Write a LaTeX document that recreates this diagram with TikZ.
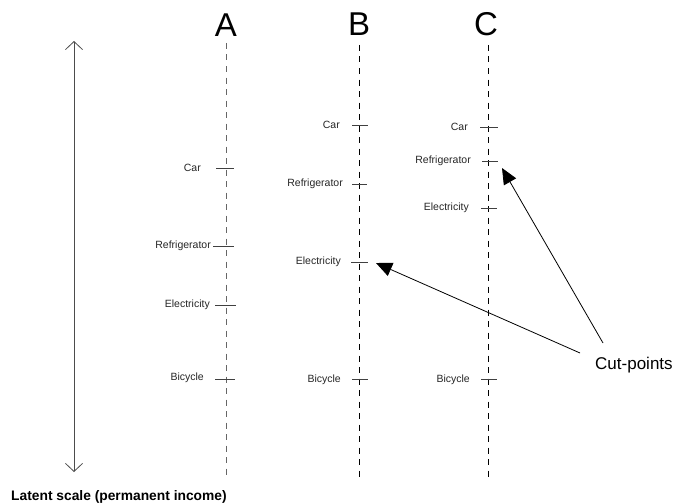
\documentclass[tikz,border=0pt]{standalone}
\usepackage{fontspec}
\setmainfont{Liberation Sans}
\usetikzlibrary{arrows.meta}
\begin{document}
\begin{tikzpicture}[x=1pt,y=-1pt,
  axisline/.style={draw=black, line width=0.8pt, dash pattern=on 6pt off 5.5pt},
  axisgrey/.style={axisline, draw=black!60},
  tickmark/.style={draw=black!75, line width=0.8pt},
  itemlabel/.style={font=\fontsize{10.5}{12}\selectfont, text=black!85, anchor=east, inner sep=0pt},
  colhead/.style={font=\fontsize{33}{36}\selectfont, inner sep=0pt, anchor=base},
  pointer/.style={draw=black, line width=0.8pt, -{Triangle[length=16pt,width=14pt]}},
  scalearrow/.style={draw=black!70, line width=0.8pt, {Straight Barb[length=8pt,width=17pt]}-{Straight Barb[length=8pt,width=17pt]}}
]
\useasboundingbox (0,0) rectangle (674,503);

% column headings
\node[colhead] (hA) at (226,37) {A};
\node[colhead] (hB) at (359,36) {B};
\node[colhead] (hC) at (486,36) {C};

% dashed scales
\coordinate (At) at (226,43); \coordinate (Ab) at (226,477);
\coordinate (Bt) at (359,45); \coordinate (Bb) at (359,477);
\coordinate (Ct) at (488,45); \coordinate (Cb) at (488,477);
\draw[axisgrey] (At) -- (Ab);
\draw[axisline] (Bt) -- (Bb);
\draw[axisline] (Ct) -- (Cb);

% latent scale arrow
\coordinate (La) at (74,41); \coordinate (Lb) at (74,472);
\draw[scalearrow] (Lb) -- (La);
\node[font=\bfseries\fontsize{13.8}{16}\selectfont, anchor=west, inner sep=0pt] (lat) at (11,497) {Latent scale (permanent income)};

% ticks column A
\coordinate (aCar) at (225,168);
\coordinate (aRef) at (224,246);
\coordinate (aEle) at (225.5,305);
\coordinate (aBic) at (225,379);
\draw[tickmark] ([xshift=-9]aCar) -- ([xshift=9]aCar);
\draw[tickmark] ([xshift=-11]aRef) -- ([xshift=10]aRef);
\draw[tickmark] ([xshift=-10.5]aEle) -- ([xshift=10.5]aEle);
\draw[tickmark] ([xshift=-10]aBic) -- ([xshift=10]aBic);
\node[itemlabel] (laCar) at (201,168) {Car};
\node[itemlabel] (laRef) at (211,246) {Refrigerator};
\node[itemlabel] (laEle) at (210,305) {Electricity};
\node[itemlabel] (laBic) at (204,378) {Bicycle};

% ticks column B
\coordinate (bCar) at (360,125);
\coordinate (bRef) at (359.5,184);
\coordinate (bEle) at (359.5,262);
\coordinate (bBic) at (360,379);
\draw[tickmark] ([xshift=-8]bCar) -- ([xshift=8]bCar);
\draw[tickmark] ([xshift=-7.5]bRef) -- ([xshift=7.5]bRef);
\draw[tickmark] ([xshift=-8.5]bEle) -- ([xshift=8.5]bEle);
\draw[tickmark] ([xshift=-8]bBic) -- ([xshift=8]bBic);
\node[itemlabel] (lbCar) at (340,125) {Car};
\node[itemlabel] (lbRef) at (343,184) {Refrigerator};
\node[itemlabel] (lbEle) at (341,262) {Electricity};
\node[itemlabel] (lbBic) at (341,380) {Bicycle};

% ticks column C
\coordinate (cCar) at (489,127);
\coordinate (cRef) at (490,161);
\coordinate (cEle) at (489,208);
\coordinate (cBic) at (489,379);
\draw[tickmark] ([xshift=-9]cCar) -- ([xshift=9]cCar);
\draw[tickmark] ([xshift=-8]cRef) -- ([xshift=8]cRef);
\draw[tickmark] ([xshift=-8]cEle) -- ([xshift=8]cEle);
\draw[tickmark] ([xshift=-8]cBic) -- ([xshift=8]cBic);
\node[itemlabel] (lcCar) at (468,127) {Car};
\node[itemlabel] (lcRef) at (471,161) {Refrigerator};
\node[itemlabel] (lcEle) at (469,208) {Electricity};
\node[itemlabel] (lcBic) at (470,380) {Bicycle};

% cut-points
\node[font=\fontsize{17}{20}\selectfont, anchor=west, inner sep=0pt] (cp) at (595,365) {Cut-points};
\coordinate (cpA) at (580,353);
\coordinate (cpB) at (603,343);
\coordinate (tipB) at (376,263);
\coordinate (tipC) at (502,168);
\draw[pointer] (cpA) -- (tipB);
\draw[pointer] (cpB) -- (tipC);
\end{tikzpicture}
\end{document}
